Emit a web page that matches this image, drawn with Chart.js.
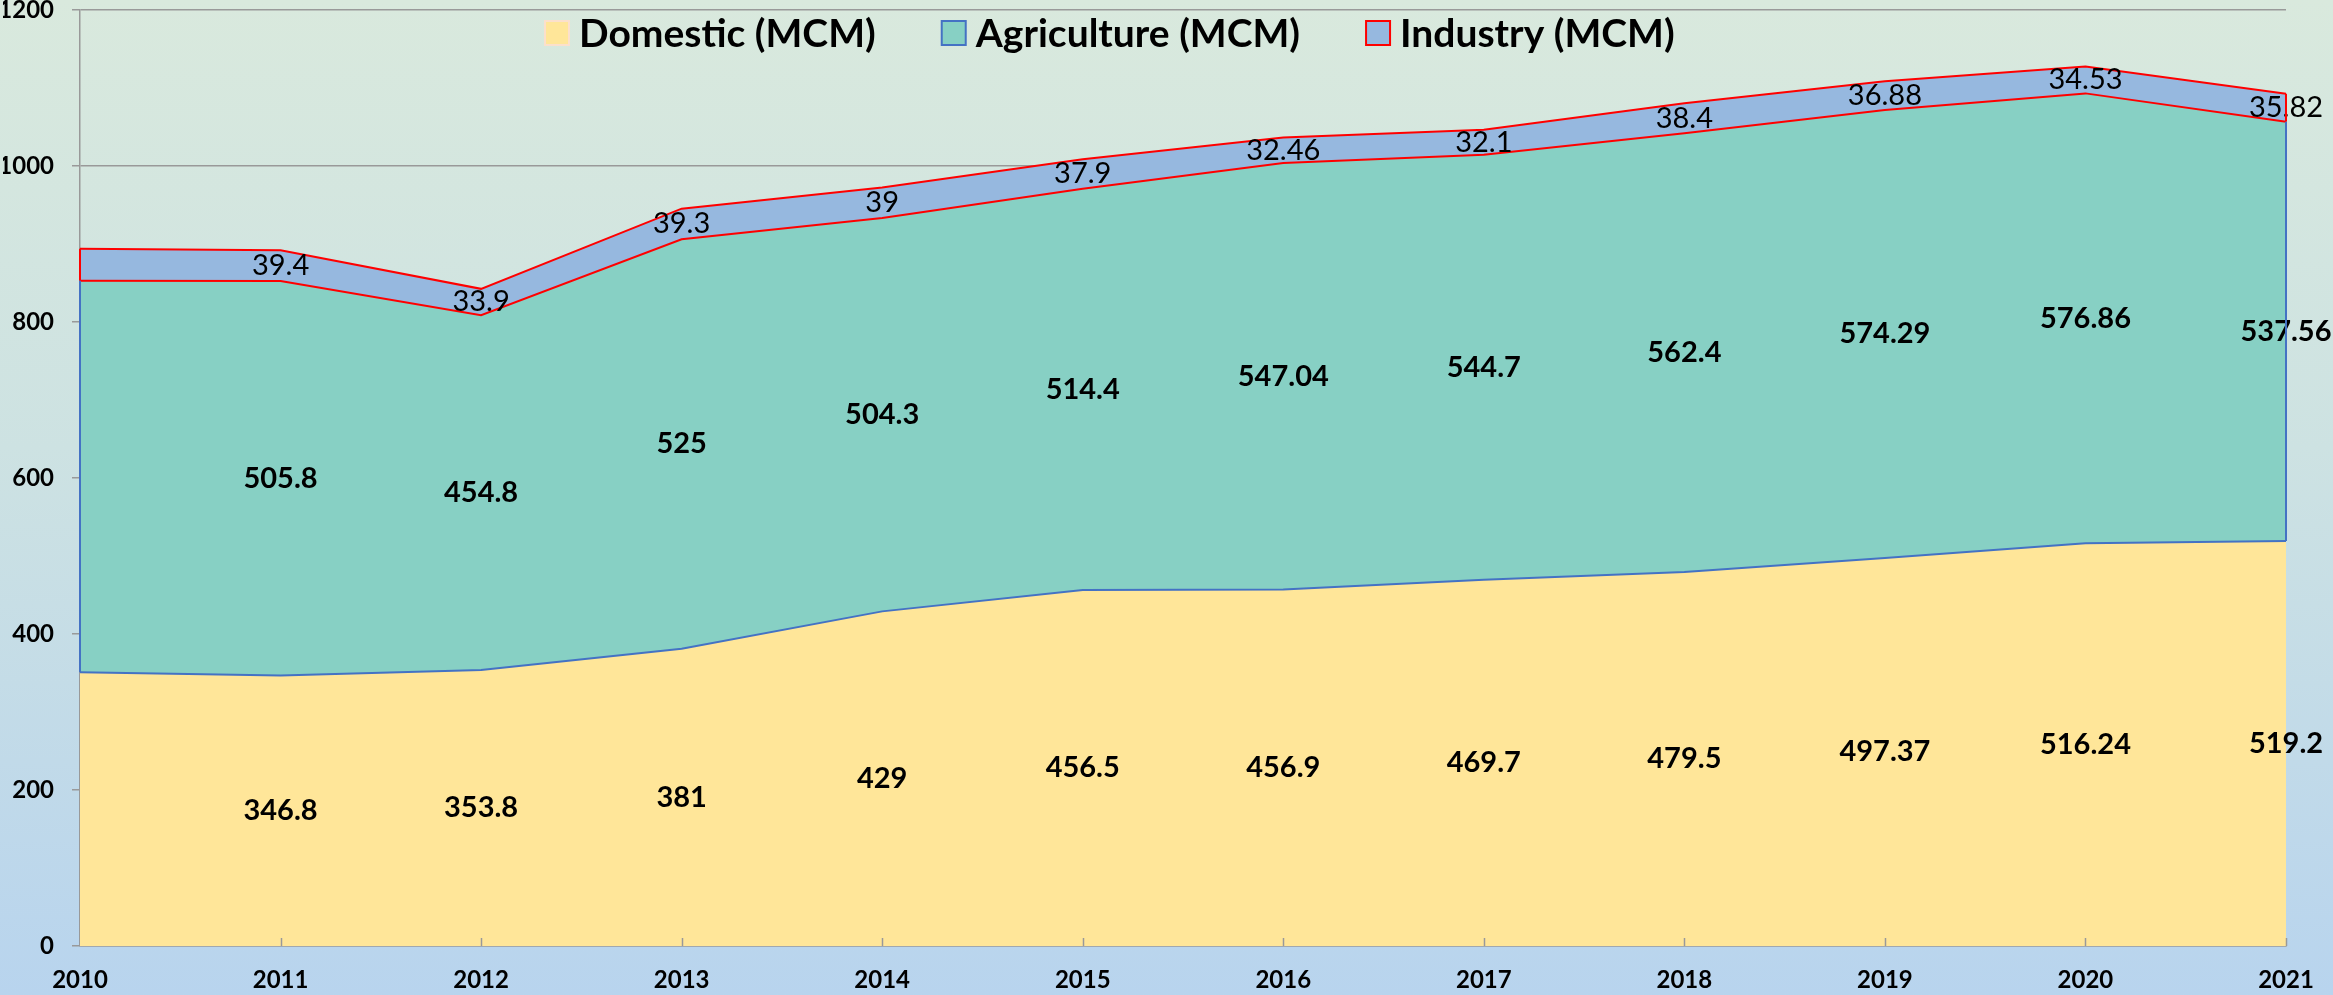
<!DOCTYPE html>
<html>
<head>
<meta charset="utf-8">
<script src="https://cdn.jsdelivr.net/npm/chart.js@4.4.1/dist/chart.umd.min.js"></script>
<style>
  html, body { margin: 0; padding: 0; }
  #wrap {
    width: 2333px;
    height: 995px;
    position: relative;
    background: linear-gradient(to bottom, #d9e9dd 0%, #cde2e2 45%, #b8d4ee 100%);
  }
  #water-chart { display: block; }
</style>
</head>
<body>
<div id="wrap"><canvas id="water-chart" width="2333" height="995"></canvas></div>
<script>
// Water use by sector (MCM), stacked area

const years = ["2010", "2011", "2012", "2013", "2014", "2015", "2016", "2017", "2018", "2019", "2020", "2021"];
const domestic = [351, 346.8, 353.8, 381, 429, 456.5, 456.9, 469.7, 479.5, 497.37, 516.24, 519.2];
const agriculture = [502, 505.8, 454.8, 525, 504.3, 514.4, 547.04, 544.7, 562.4, 574.29, 576.86, 537.56];
const industry = [41, 39.4, 33.9, 39.3, 39, 37.9, 32.46, 32.1, 38.4, 36.88, 34.53, 35.82];
const seriesNames = ["Domestic (MCM)", "Agriculture (MCM)", "Industry (MCM)"];
const yMin = 0;
const yMax = 1200;
const yStep = 200;

const FONT = "Lato, 'Open Sans', sans-serif";

// legend swatches: fill + outline, as in the original
const swatches = [
  { fill: "#ffe699", stroke: "#fbe0cc" },
  { fill: "#87d0c4", stroke: "#4472c4" },
  { fill: "#96b8df", stroke: "#ff0000" },
];

// labels in the middle of each band
const bandLabels = {
  id: "bandLabels",
  afterDatasetsDraw(chart) {
    const ctx = chart.ctx;
    const yScale = chart.scales.y;
    ctx.save();
    ctx.textAlign = "center";
    ctx.textBaseline = "middle";
    ctx.fillStyle = "#000";
    chart.data.datasets.forEach((ds, i) => {
      const meta = chart.getDatasetMeta(i);
      const prev = i > 0 ? chart.getDatasetMeta(i - 1) : null;
      ctx.font = (i < 2 ? "bold " : "") + "29px " + FONT;
      meta.data.forEach((pt, j) => {
        if (j === 0) return;
        const bottom = prev ? prev.data[j].y : yScale.getPixelForValue(0);
        ctx.fillText(String(ds.data[j]), pt.x, (pt.y + bottom) / 2);
      });
    });
    ctx.restore();
  },
};

// vertical outline edges + inward x tick marks
const edgesAndTicks = {
  id: "edgesAndTicks",
  afterDatasetsDraw(chart) {
    const ctx = chart.ctx;
    const m0 = chart.getDatasetMeta(0).data;
    const m1 = chart.getDatasetMeta(1).data;
    const m2 = chart.getDatasetMeta(2).data;
    const last = m0.length - 1;
    ctx.save();
    ctx.lineWidth = 2;
    [0, last].forEach((j) => {
      ctx.strokeStyle = "#ff0000";
      ctx.beginPath();
      ctx.moveTo(m2[j].x, m2[j].y);
      ctx.lineTo(m1[j].x, m1[j].y);
      ctx.stroke();
      ctx.strokeStyle = "#4472c4";
      ctx.beginPath();
      ctx.moveTo(m1[j].x, m1[j].y);
      ctx.lineTo(m0[j].x, m0[j].y);
      ctx.stroke();
    });
    const xs = chart.scales.x;
    const bottom = chart.chartArea.bottom;
    ctx.strokeStyle = "#999";
    ctx.lineWidth = 1.5;
    for (let j = 1; j < years.length; j++) {
      const x = Math.round(xs.getPixelForValue(j)) + 0.5;
      ctx.beginPath();
      ctx.moveTo(x, bottom);
      ctx.lineTo(x, bottom - 8);
      ctx.stroke();
    }
    ctx.restore();
  },
};

// legend drawn over the plot area
const overlayLegend = {
  id: "overlayLegend",
  afterDraw(chart) {
    const ctx = chart.ctx;
    ctx.save();
    ctx.font = "bold 39px " + FONT;
    ctx.textBaseline = "middle";
    ctx.textAlign = "left";
    let x = 545;
    const y = 33;
    seriesNames.forEach((name, i) => {
      ctx.fillStyle = swatches[i].fill;
      ctx.fillRect(x, y - 12, 24, 24);
      ctx.strokeStyle = swatches[i].stroke;
      ctx.lineWidth = 2;
      ctx.strokeRect(x, y - 12, 24, 24);
      ctx.fillStyle = "#000";
      ctx.fillText(name, x + 34, y + 1);
      x += 34 + ctx.measureText(name).width + 66;
    });
    ctx.restore();
  },
};

document.addEventListener("DOMContentLoaded", function () {
  const ctx = document.getElementById("water-chart").getContext("2d");

  const data = {
    labels: years,
    datasets: [
      {
        label: seriesNames[0],
        data: domestic,
        backgroundColor: "#ffe699",
        borderColor: "#4472c4",
        borderWidth: 2,
        fill: "origin",
      },
      {
        label: seriesNames[1],
        data: agriculture,
        backgroundColor: "#87d0c4",
        borderColor: "#ff0000",
        borderWidth: 2,
        fill: "-1",
      },
      {
        label: seriesNames[2],
        data: industry,
        backgroundColor: "#96b8df",
        borderColor: "#ff0000",
        borderWidth: 2,
        fill: "-1",
      },
    ],
  };

  new Chart(ctx, {
    type: "line",
    data: data,
    plugins: [bandLabels, edgesAndTicks, overlayLegend],
    options: {
      responsive: false,
      animation: false,
      layout: {
        padding: { top: 10, right: 47, bottom: 0, left: 3 },
      },
      elements: {
        point: { radius: 0, hoverRadius: 0 },
        line: { tension: 0 },
      },
      plugins: {
        legend: { display: false },
        tooltip: { enabled: false },
      },
      scales: {
        x: {
          offset: false,
          grid: { display: false, drawTicks: false },
          border: { display: true, color: "#999", width: 1.5 },
          ticks: {
            color: "#000",
            padding: 22,
            maxRotation: 0,
            font: { family: FONT, size: 24, weight: "bold", lineHeight: 1 },
          },
          afterFit: function (scale) {
            scale.height = 49;
            scale.paddingLeft = 0;
            scale.paddingRight = 0;
          },
        },
        y: {
          stacked: true,
          min: yMin,
          max: yMax,
          grid: {
            color: "#999",
            lineWidth: 1.5,
            tickLength: 8,
          },
          border: { display: true, color: "#999", width: 1.5 },
          ticks: {
            stepSize: yStep,
            color: "#000",
            padding: 18,
            font: { family: FONT, size: 24, weight: "bold", lineHeight: 1 },
            callback: function (value) {
              return String(value);
            },
          },
          afterFit: function (scale) {
            scale.width = 77;
            scale.paddingTop = 0;
            scale.paddingBottom = 0;
          },
        },
      },
    },
  });
});
</script>
</body>
</html>
